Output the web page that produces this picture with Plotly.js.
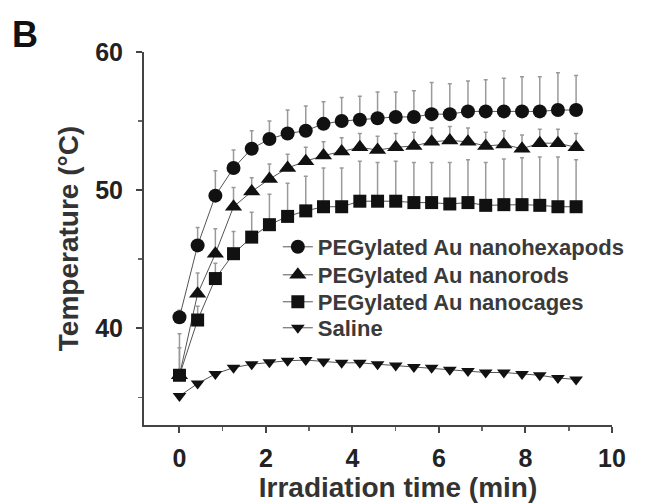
<!DOCTYPE html>
<html>
<head>
<meta charset="utf-8">
<script src="https://cdn.plot.ly/plotly-3.0.1.min.js"></script>
<style>
  html, body { margin: 0; padding: 0; background: #fff; }
  #chart { width: 646px; height: 504px; }
  /* the reference's x-axis title sits a little right of the axis centre */
  #chart .xtitle { transform: translate(20px, 0px); }
</style>
</head>
<body>
<div id="chart"></div>
<script>
// Irradiation time (min), 25 s sampling
const times = [0, 0.42, 0.83, 1.25, 1.67, 2.08, 2.5, 2.92, 3.33, 3.75, 4.17, 4.58, 5, 5.42, 5.83, 6.25, 6.67, 7.08, 7.5, 7.92, 8.33, 8.75, 9.17];

const seriesNames = ["PEGylated Au nanohexapods", "PEGylated Au nanorods", "PEGylated Au nanocages", "Saline"];

const hexapods    = [40.8, 46.0, 49.6, 51.6, 53.0, 53.7, 54.1, 54.3, 54.8, 55.0, 55.1, 55.2, 55.3, 55.3, 55.5, 55.5, 55.7, 55.7, 55.7, 55.7, 55.7, 55.8, 55.8];
const hexapodsErr = [0.5, 1.3, 1.8, 1.3, 1.3, 1.3, 1.7, 1.8, 1.6, 1.7, 1.7, 1.9, 1.8, 1.9, 2.3, 2.2, 2.2, 2.3, 2.4, 2.5, 2.5, 2.7, 2.5];

const nanorods    = [36.6, 42.5, 45.4, 48.8, 49.9, 50.8, 51.6, 52.1, 52.5, 52.8, 53.1, 52.9, 53.1, 53.2, 53.5, 53.6, 53.5, 53.2, 53.3, 53.0, 53.4, 53.4, 53.1];
const nanorodsErr = [2.0, 1.5, 1.8, 1.4, 1.0, 1.1, 1.0, 1.0, 1.0, 1.0, 1.0, 1.0, 1.0, 1.0, 1.0, 1.0, 1.0, 1.0, 1.0, 1.0, 1.0, 1.0, 1.0];

const nanocages    = [36.6, 40.6, 43.6, 45.4, 46.6, 47.5, 48.1, 48.5, 48.8, 48.8, 49.2, 49.2, 49.2, 49.1, 49.1, 49.0, 49.1, 48.9, 48.95, 48.95, 48.9, 48.8, 48.8];
const nanocagesErr = [3.0, 1.0, 1.1, 1.6, 1.8, 2.2, 2.4, 2.5, 2.8, 2.8, 2.9, 2.8, 2.9, 2.9, 2.9, 3.0, 3.1, 3.1, 3.3, 3.4, 3.5, 3.6, 3.4];

const saline = [35.1, 36.0, 36.7, 37.15, 37.4, 37.55, 37.65, 37.7, 37.6, 37.5, 37.5, 37.4, 37.3, 37.2, 37.15, 37.0, 36.9, 36.8, 36.8, 36.7, 36.6, 36.4, 36.3];

const xTickVals = [0, 2, 4, 6, 8, 10];
const yTickVals = [40, 50, 60];

const FONT = "Liberation Sans, Arial, Helvetica, sans-serif";
const lineStyle = { color: "#555", width: 1 };
const errStyle = (arr) => ({ type: "data", symmetric: false, array: arr, arrayminus: arr.map(() => 0), color: "#9a9a9a", thickness: 1.5, width: 2 });

const traces = [
  { x: times, y: hexapods, name: seriesNames[0], legend: "legend", mode: "lines+markers", line: lineStyle,
    marker: { symbol: "circle", size: 14, color: "#111" }, error_y: errStyle(hexapodsErr) },
  { x: times, y: nanorods, name: seriesNames[1], legend: "legend2", mode: "lines+markers", line: lineStyle,
    marker: { symbol: "triangle-up", size: 15, color: "#111" }, error_y: errStyle(nanorodsErr) },
  { x: times, y: nanocages, name: seriesNames[2], legend: "legend3", mode: "lines+markers", line: lineStyle,
    marker: { symbol: "square", size: 13, color: "#111" }, error_y: errStyle(nanocagesErr) },
  { x: times, y: saline, name: seriesNames[3], legend: "legend4", mode: "lines+markers", line: lineStyle,
    marker: { symbol: "triangle-down", size: 12, color: "#111" } }
];

const legendFont = { family: FONT, size: 22, color: "#3a3a3a", weight: "bold" };
const mkLegend = (y) => ({ x: 0.286, y: y, xanchor: "left", yanchor: "top", bgcolor: "rgba(0,0,0,0)",
  borderwidth: 0, font: legendFont, itemwidth: 30 });

const layout = {
  width: 646, height: 504,
  margin: { l: 144, r: 34, t: 52, b: 79, pad: 0 },
  paper_bgcolor: "#fff", plot_bgcolor: "#fff",
  font: { family: FONT, color: "#2a2a2a", weight: "bold" },
  showlegend: true,
  legend: mkLegend(0.5335),
  legend2: mkLegend(0.4584),
  legend3: mkLegend(0.3861),
  legend4: mkLegend(0.3164),
  xaxis: {
    range: [-0.82, 10], tickvals: xTickVals, ticktext: xTickVals.map(String),
    showgrid: false, zeroline: false, showline: true, linecolor: "#444", linewidth: 2,
    ticks: "outside", ticklen: 6, tickwidth: 2, tickcolor: "#444",
    minor: { dtick: 1, tick0: 0, ticks: "outside", ticklen: 4, tickwidth: 1.5, tickcolor: "#666", showgrid: false },
    tickfont: { family: FONT, size: 25, color: "#222", weight: "bold" },
    ticklabelstandoff: 4,
    title: { text: "Irradiation time (min)", font: { family: FONT, size: 28, color: "#333", weight: "bold" }, standoff: 2 }
  },
  yaxis: {
    range: [33, 60], tickvals: yTickVals, ticktext: yTickVals.map(String),
    showgrid: false, zeroline: false, showline: true, linecolor: "#444", linewidth: 2,
    ticks: "outside", ticklen: 6, tickwidth: 2, tickcolor: "#444",
    minor: { dtick: 5, tick0: 0, ticks: "outside", ticklen: 4, tickwidth: 1.5, tickcolor: "#666", showgrid: false },
    tickfont: { family: FONT, size: 25, color: "#222", weight: "bold" },
    ticklabelstandoff: 8,
    title: { text: "Temperature (°C)", font: { family: FONT, size: 28, color: "#333", weight: "bold" }, standoff: 8 }
  },
  annotations: [
    { text: "B", xref: "paper", yref: "paper", x: -0.254, y: 1.048, xanchor: "center", yanchor: "middle",
      showarrow: false, font: { family: FONT, size: 36, color: "#111", weight: "bold" } }
  ]
};

Plotly.newPlot("chart", traces, layout, { displayModeBar: false, staticPlot: true });
</script>
</body>
</html>
